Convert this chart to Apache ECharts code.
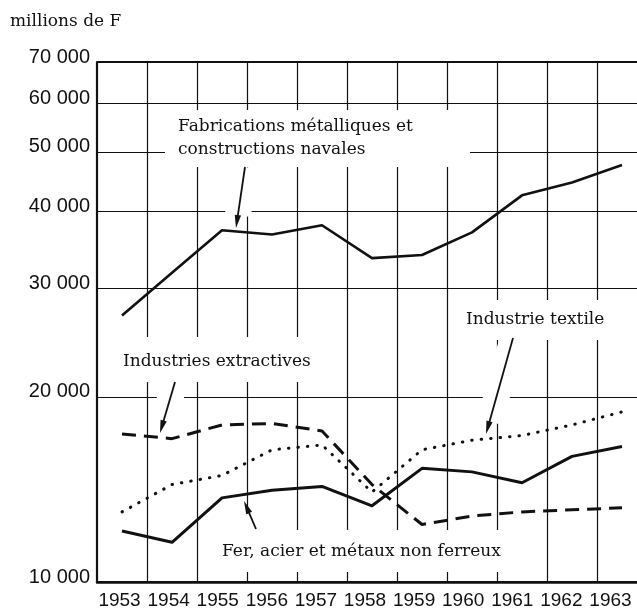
<!DOCTYPE html>
<html><head><meta charset="utf-8">
<script src="https://cdn.jsdelivr.net/npm/echarts@6/dist/echarts.min.js"></script>
<style>html,body{margin:0;padding:0;background:#fff}#c{width:637px;height:612px}</style>
</head><body><div id="c"></div>
<script>
const years = ['1953','1954','1955','1956','1957','1958','1959','1960','1961','1962','1963'];
const fabrications = [27100, 31800, 37300, 36700, 38000, 33600, 34000, 37000, 42500, 44600, 47600];
const extractives  = [17400, 17100, 18000, 18100, 17600, 14400, 12400, 12800, 13000, 13100, 13200];
const textile      = [13000, 14400, 14900, 16400, 16700, 14000, 16400, 17000, 17300, 18000, 18900];
const ferAcier     = [12100, 11600, 13700, 14100, 14300, 13300, 15300, 15100, 14500, 16000, 16600];
const yTicks = [10000, 20000, 30000, 40000, 50000, 60000, 70000];
const yTickLabels = ['10 000', '20 000', '30 000', '40 000', '50 000', '60 000', '70 000'];

const INK = '#111111';
const NUM_FONT = '"Liberation Sans", Arial, sans-serif';
const TXT_FONT = '"DejaVu Serif", serif';

const chart = echarts.init(document.getElementById('c'), null, {renderer: 'canvas'});

// annotation boxes (white patches interrupting the grid)
const boxes = [
  {x: 165, y: 110, w: 305, h: 57},
  {x: 105, y: 337, w: 215, h: 45},
  {x: 458, y: 300, w: 190, h: 40},
  {x: 215, y: 530, w: 300, h: 42}
];
const texts = [
  {t: 'millions de F', x: 10, y: 22},
  {t: 'Fabrications métalliques et', x: 178, y: 127},
  {t: 'constructions navales', x: 178, y: 150},
  {t: 'Industries extractives', x: 123, y: 362},
  {t: 'Industrie textile', x: 466, y: 320},
  {t: 'Fer, acier et métaux non ferreux', x: 222, y: 552}
];
const arrows = [
  {from: [245, 167], to: [236, 228]},
  {from: [175, 382], to: [160, 433]},
  {from: [513, 338], to: [486, 434]},
  {from: [256, 529], to: [244, 501]}
];

const graphics = [];
boxes.forEach(b => graphics.push({type: 'rect', z: 5, silent: true,
  shape: {x: b.x, y: b.y, width: b.w, height: b.h}, style: {fill: '#fff'}}));
arrows.forEach(a => {
  const dx = a.to[0] - a.from[0], dy = a.to[1] - a.from[1];
  const L = Math.hypot(dx, dy), ux = dx / L, uy = dy / L;
  const hl = 13, hw = 3.2;
  const bx = a.to[0] - ux * hl, by = a.to[1] - uy * hl;
  graphics.push({type: 'line', z: 5, silent: true,
    shape: {x1: a.from[0], y1: a.from[1], x2: bx, y2: by},
    style: {stroke: '#fff', lineWidth: 26}});
  graphics.push({type: 'line', z: 6, silent: true,
    shape: {x1: a.from[0], y1: a.from[1], x2: bx + ux * 2, y2: by + uy * 2},
    style: {stroke: INK, lineWidth: 1.8}});
  graphics.push({type: 'polygon', z: 6, silent: true,
    shape: {points: [[a.to[0], a.to[1]], [bx - uy * hw, by + ux * hw], [bx + uy * hw, by - ux * hw]]},
    style: {fill: INK}});
});
texts.forEach(s => graphics.push({type: 'text', z: 7, silent: true, x: s.x, y: s.y,
  style: {text: s.t, fill: INK, font: '17px ' + TXT_FONT, textVerticalAlign: 'middle', verticalAlign: 'middle'}}));

const pairs = arr => arr.map((v, i) => [Number(years[i]), v]);
const firstYear = Number(years[0]), lastYear = Number(years[years.length - 1]);

const option = {
  animation: false,
  backgroundColor: '#fff',
  grid: {left: 97, right: 0, top: 62, bottom: 30, containLabel: false},
  xAxis: [
    {
      type: 'value', min: firstYear - 0.5, max: lastYear + 0.3,
      axisLine: {show: true, onZero: false, lineStyle: {color: INK, width: 2.5}},
      axisTick: {show: false}, axisLabel: {show: false}, splitLine: {show: false}
    },
    {
      type: 'category', data: years, boundaryGap: true, position: 'bottom',
      axisLine: {show: false}, axisTick: {show: false}, splitLine: {show: false},
      axisLabel: {show: true, interval: 0, color: INK, fontFamily: NUM_FONT, fontSize: 19, margin: 9, padding: [0, 4, 0, 0]}
    }
  ],
  yAxis: {
    type: 'log', logBase: 10, min: 10000, max: 70000,
    axisLine: {show: true, lineStyle: {color: INK, width: 2.2}},
    axisTick: {show: false}, axisLabel: {show: false}, splitLine: {show: false}
  },
  graphic: graphics,
  series: [
    {type: 'line', name: 'Fabrications métalliques et constructions navales', data: pairs(fabrications),
      xAxisIndex: 0, symbol: 'none', z: 10, silent: true,
      lineStyle: {color: INK, width: 2.6, join: 'round'},
      markLine: {
        silent: true, symbol: 'none', z: 1, animation: false,
        label: {show: true, position: 'start', distance: 7, color: INK, fontFamily: NUM_FONT, fontSize: 20, lineHeight: 10},
        lineStyle: {color: INK, width: 1.2, type: 'solid'},
        data: yTicks.map((v, i) => ({yAxis: v, label: {formatter: yTickLabels[i] + '\n '},
          lineStyle: {color: INK, width: (v === 70000 || v === 10000) ? 2.2 : 1.2, type: 'solid'}}))
      }},
    {type: 'line', name: 'Industries extractives', data: pairs(extractives), xAxisIndex: 0,
      symbol: 'none', z: 10, silent: true,
      lineStyle: {color: INK, width: 3, type: [14, 8]},
      markLine: {
        silent: true, symbol: 'none', z: 1, animation: false, label: {show: false},
        lineStyle: {color: INK, width: 1.2, type: 'solid'},
        data: years.slice(0, -1).map(y => ({xAxis: Number(y) + 0.5}))
      }},
    {type: 'line', name: 'Industrie textile', data: pairs(textile), xAxisIndex: 0,
      symbol: 'none', z: 10, silent: true,
      lineStyle: {color: INK, width: 3, type: [0.5, 9], cap: 'round'}},
    {type: 'line', name: 'Fer, acier et métaux non ferreux', data: pairs(ferAcier), xAxisIndex: 0,
      symbol: 'none', z: 10, silent: true,
      lineStyle: {color: INK, width: 3, join: 'round'}}
  ]
};
chart.setOption(option);
</script>
</body></html>
